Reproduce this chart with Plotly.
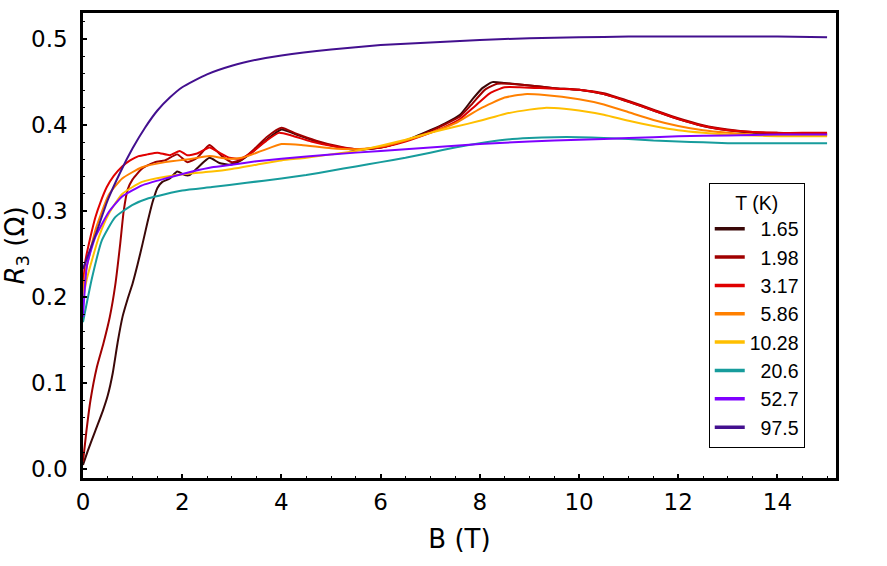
import plotly.graph_objects as go

# ---------------- data ----------------
temps = ["1.65", "1.98", "3.17", "5.86", "10.28", "20.6", "52.7", "97.5"]
colors = ["#3a0808", "#a00000", "#e00000", "#ff8000", "#ffbf00", "#179c9c", "#7f00ff", "#43108f"]

B_165 = [0, 0.1, 0.25, 0.4, 0.5, 0.6, 0.7, 0.8, 0.9, 1.0, 1.1, 1.2, 1.3, 1.4, 1.5, 1.6, 1.75, 1.9, 2.05,
         2.15, 2.3, 2.55, 2.75, 2.95, 3.15, 3.4, 3.7, 4.0, 4.3, 4.7, 5.1, 5.5, 6.0, 6.5, 7.0, 7.3, 7.6,
         7.85, 8.05, 8.25, 8.5, 9.0, 9.5, 10.0, 10.5, 11.0, 11.5, 12.0, 12.5, 13.0, 13.5, 14.0, 14.5, 15.0]
R_165 = [0.005, 0.022, 0.045, 0.068, 0.086, 0.112, 0.148, 0.178, 0.198, 0.216, 0.238, 0.262, 0.287, 0.310,
         0.327, 0.334, 0.338, 0.346, 0.342, 0.342, 0.350, 0.362, 0.356, 0.354, 0.358, 0.368, 0.383, 0.395,
         0.389, 0.381, 0.375, 0.371, 0.374, 0.382, 0.394, 0.402, 0.412, 0.430, 0.443, 0.450, 0.449, 0.446,
         0.443, 0.441, 0.436, 0.427, 0.417, 0.407, 0.399, 0.394, 0.391, 0.390, 0.389, 0.389]

B_198 = [0, 0.07, 0.15, 0.28, 0.41, 0.54, 0.65, 0.75, 0.82, 0.9, 1.0, 1.2, 1.45, 1.65, 1.9, 2.1, 2.3, 2.55,
         2.8, 3.0, 3.2, 3.45, 3.7, 4.0, 4.3, 4.7, 5.1, 5.5, 6.0, 6.5, 7.0, 7.3, 7.6, 7.85, 8.1, 8.35, 8.6,
         9.0, 9.5, 10.0, 10.5, 11.0, 11.5, 12.0, 12.5, 13.0, 13.5, 14.0, 14.5, 15.0]
R_198 = [0.009, 0.045, 0.080, 0.119, 0.146, 0.177, 0.214, 0.262, 0.300, 0.325, 0.337, 0.350, 0.357, 0.359,
         0.366, 0.357, 0.362, 0.377, 0.364, 0.357, 0.360, 0.372, 0.386, 0.397, 0.390, 0.382, 0.376, 0.372,
         0.374, 0.382, 0.393, 0.401, 0.410, 0.425, 0.441, 0.448, 0.448, 0.446, 0.443, 0.441, 0.437, 0.428,
         0.418, 0.408, 0.400, 0.395, 0.392, 0.391, 0.390, 0.390]

B_317 = [0, 0.05, 0.15, 0.25, 0.35, 0.48, 0.62, 0.79, 0.95, 1.12, 1.3, 1.5, 1.75, 1.95, 2.1, 2.3, 2.55, 2.75,
         2.95, 3.17, 3.4, 3.7, 3.95, 4.2, 4.6, 5.0, 5.5, 6.0, 6.5, 7.0, 7.3, 7.6, 7.9, 8.2, 8.5, 8.8, 9.2,
         9.6, 10.0, 10.5, 11.0, 11.5, 12.0, 12.5, 13.0, 13.5, 14.0, 14.5, 15.0]
R_317 = [0.215, 0.243, 0.270, 0.293, 0.310, 0.328, 0.341, 0.352, 0.359, 0.364, 0.366, 0.368, 0.365, 0.370,
         0.365, 0.367, 0.374, 0.368, 0.362, 0.361, 0.368, 0.382, 0.391, 0.388, 0.381, 0.376, 0.372, 0.374,
         0.381, 0.391, 0.398, 0.407, 0.422, 0.437, 0.444, 0.444, 0.443, 0.442, 0.441, 0.436, 0.427, 0.417,
         0.407, 0.399, 0.394, 0.392, 0.391, 0.391, 0.391]

B_586 = [0, 0.05, 0.25, 0.52, 0.79, 1.19, 1.66, 2.2, 2.55, 2.9, 3.2, 3.6, 4.0, 4.4, 5.0, 5.5, 6.0, 6.5, 7.0,
         7.5, 8.0, 8.5, 8.9, 9.3, 10.0, 10.5, 11.0, 11.5, 12.0, 12.5, 13.0, 13.5, 14.0, 14.5, 15.0]
R_586 = [0.205, 0.228, 0.278, 0.319, 0.338, 0.351, 0.357, 0.361, 0.364, 0.361, 0.362, 0.370, 0.378, 0.377,
         0.373, 0.372, 0.375, 0.382, 0.391, 0.402, 0.419, 0.432, 0.436, 0.435, 0.430, 0.424, 0.415, 0.406,
         0.399, 0.394, 0.391, 0.389, 0.388, 0.388, 0.388]

B_1028 = [0, 0.08, 0.32, 0.52, 0.79, 1.19, 1.66, 2.2, 2.6, 3.0, 3.5, 4.0, 4.5, 5.0, 5.5, 6.0, 6.5, 7.0, 7.5,
          8.0, 8.5, 9.0, 9.3, 9.7, 10.0, 10.5, 11.0, 11.5, 12.0, 12.5, 13.0, 13.5, 14.0, 14.5, 15.0]
R_1028 = [0.198, 0.222, 0.270, 0.297, 0.320, 0.334, 0.340, 0.344, 0.346, 0.349, 0.354, 0.359, 0.362, 0.366,
          0.370, 0.376, 0.383, 0.391, 0.398, 0.405, 0.413, 0.418, 0.420, 0.419, 0.417, 0.412, 0.405, 0.399,
          0.394, 0.391, 0.389, 0.388, 0.387, 0.387, 0.387]

B_206 = [0, 0.18, 0.38, 0.65, 0.99, 1.32, 2.0, 2.6, 3.3, 4.0, 4.5, 5.0, 5.5, 6.0, 6.5, 7.0, 7.5, 8.0, 8.5,
         9.0, 9.5, 10.0, 10.5, 11.0, 11.5, 12.0, 12.5, 13.0, 13.5, 14.0, 14.5, 15.0]
R_206 = [0.171, 0.222, 0.266, 0.293, 0.307, 0.315, 0.324, 0.328, 0.333, 0.338, 0.342, 0.347, 0.352, 0.357,
         0.362, 0.368, 0.374, 0.379, 0.383, 0.385, 0.386, 0.386, 0.385, 0.384, 0.382, 0.381, 0.380, 0.379,
         0.379, 0.379, 0.379, 0.379]

B_527 = [0, 0.08, 0.25, 0.52, 0.79, 1.19, 1.66, 2.2, 2.6, 3.0, 3.5, 4.0, 5.0, 6.0, 7.0, 8.0, 9.0, 10.0,
         11.0, 12.0, 13.0, 14.0, 15.0]
R_527 = [0.177, 0.237, 0.270, 0.299, 0.317, 0.330, 0.338, 0.346, 0.351, 0.354, 0.358, 0.361, 0.366, 0.370,
         0.374, 0.378, 0.381, 0.383, 0.385, 0.387, 0.388, 0.389, 0.389]

B_975 = [0, 0.25, 0.5, 0.75, 1.0, 1.25, 1.5, 1.75, 2.0, 2.5, 3.0, 3.5, 4.0, 5.0, 6.0, 7.0, 8.0, 9.0, 10.0,
         11.0, 12.0, 13.0, 14.0, 15.0]
R_975 = [0.233, 0.272, 0.313, 0.345, 0.373, 0.397, 0.417, 0.432, 0.444, 0.459, 0.469, 0.476, 0.481, 0.488,
         0.493, 0.496, 0.499, 0.501, 0.502, 0.503, 0.503, 0.503, 0.503, 0.502]

B_all = [B_165, B_198, B_317, B_586, B_1028, B_206, B_527, B_975]
R_all = [R_165, R_198, R_317, R_586, R_1028, R_206, R_527, R_975]

# ---------------- figure ----------------
fig = go.Figure()
for t, c, bx, ry in zip(temps, colors, B_all, R_all):
    fig.add_trace(go.Scatter(x=bx, y=ry, mode="lines", showlegend=False, name=t,
                             line=dict(color=c, width=2, shape="spline", smoothing=0.5)))
# legend entries (thicker sample lines, labels padded to look right-aligned)
for t, c in zip(temps, colors):
    label = t if len(t) == 5 else "&nbsp;&nbsp;" + t
    fig.add_trace(go.Scatter(x=[None], y=[None], mode="lines", name=label,
                             line=dict(color=c, width=3.5)))

FONT = "Liberation Sans, Arial, sans-serif"
WIDE = "DejaVu Sans, Verdana, sans-serif"
fig.update_layout(
    width=887, height=566,
    margin=dict(l=83, r=51, t=13, b=88),
    paper_bgcolor="white", plot_bgcolor="white",
    font=dict(family=FONT, color="black"),
    showlegend=True,
    legend=dict(
        x=0.831, y=0.634, xanchor="left", yanchor="top",
        bgcolor="white", bordercolor="black", borderwidth=1,
        font=dict(size=19.5, family=FONT, color="black"),
        title=dict(text="T (K)", side="top center", font=dict(size=19.5, family=FONT)),
        itemwidth=30,
    ),
)
fig.update_xaxes(
    range=[0, 15.18], showgrid=False, zeroline=False, automargin=False,
    showline=True, mirror=True, linecolor="black", linewidth=2.5,
    ticks="inside", ticklen=4, tickwidth=1.5, tickcolor="black",
    tick0=0, dtick=2, tickfont=dict(size=23, family=WIDE),
    minor=dict(ticks="inside", ticklen=2, tickwidth=1.2, tickcolor="black", dtick=0.5, tick0=0),
    title=dict(text="B (T)", font=dict(size=26, family=WIDE), standoff=16),
    ticklabelstandoff=2,
)
fig.update_yaxes(
    range=[-0.0101, 0.5303], showgrid=False, zeroline=False, automargin=False,
    showline=True, mirror=True, linecolor="black", linewidth=2.5,
    ticks="inside", ticklen=4, tickwidth=1.5, tickcolor="black",
    tick0=0, dtick=0.1, tickformat=".1f", tickfont=dict(size=23, family=WIDE),
    minor=dict(ticks="inside", ticklen=2, tickwidth=1.2, tickcolor="black", dtick=0.02, tick0=0),
    title=dict(text="<i>R</i><sub>3</sub> (Ω)", font=dict(size=26, family=WIDE), standoff=0),
    ticklabelstandoff=8,
)

fig.write_html("out.html")
